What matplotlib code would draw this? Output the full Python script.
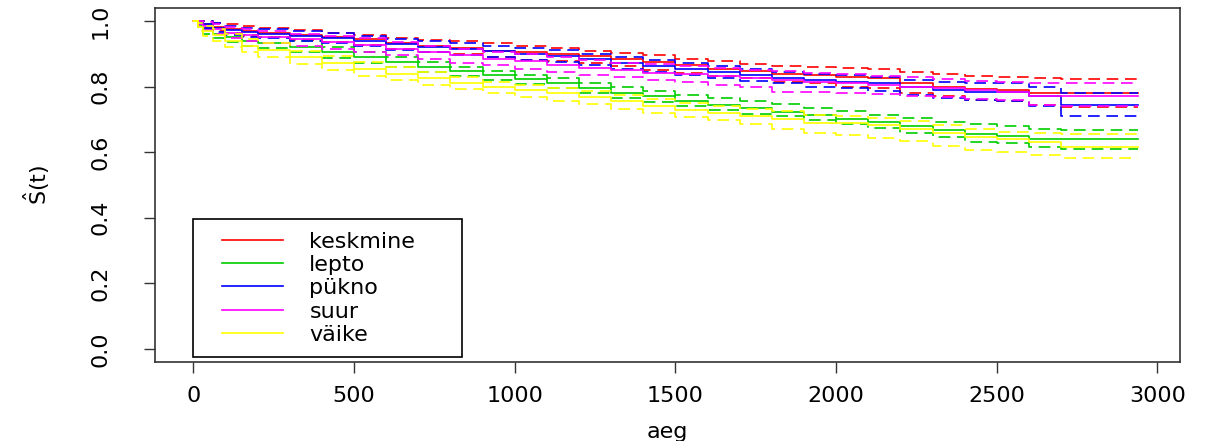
import matplotlib.pyplot as plt
from matplotlib.lines import Line2D
from matplotlib.legend_handler import HandlerLine2D

plt.rcParams['font.family'] = ['DejaVu Sans']
plt.rcParams['mathtext.fontset'] = 'dejavusans'

# time grid the curves were read at
aeg = [0, 15, 30, 60, 100, 150, 200, 300, 400, 500, 600, 700, 800, 900, 1000, 1100,
       1200, 1300, 1400, 1500, 1600, 1700, 1800, 1900, 2000, 2100, 2200, 2300,
       2400, 2500, 2600, 2700, 2800, 2940]

groups = ['keskmine', 'lepto', 'pükno', 'suur', 'väike']
colors = ['#FF0000', '#00CD00', '#0000FF', '#FF00FF', '#FFFF00']

# Kaplan-Meier estimate per group
surv_keskmine = [1.0, 0.995, 0.99, 0.982, 0.975, 0.97, 0.965, 0.958, 0.952, 0.945, 0.932, 0.925,
                 0.918, 0.91, 0.905, 0.9, 0.893, 0.885, 0.875, 0.865, 0.855, 0.848, 0.84,
                 0.835, 0.83, 0.825, 0.81, 0.8, 0.793, 0.79, 0.78, 0.78, 0.78, 0.78]
surv_lepto = [1.0, 0.985, 0.975, 0.962, 0.95, 0.94, 0.932, 0.92, 0.905, 0.89, 0.875, 0.86,
              0.847, 0.835, 0.822, 0.81, 0.796, 0.782, 0.77, 0.757, 0.745, 0.735, 0.723,
              0.712, 0.702, 0.692, 0.68, 0.668, 0.655, 0.65, 0.64, 0.64, 0.64, 0.64]
surv_pukno = [1.0, 0.995, 0.99, 0.98, 0.972, 0.966, 0.962, 0.955, 0.948, 0.94, 0.93, 0.922,
              0.915, 0.908, 0.9, 0.893, 0.883, 0.873, 0.863, 0.855, 0.845, 0.835, 0.826,
              0.82, 0.815, 0.81, 0.8, 0.79, 0.785, 0.785, 0.77, 0.744, 0.744, 0.744]
surv_suur = [1.0, 0.992, 0.985, 0.975, 0.965, 0.958, 0.952, 0.945, 0.935, 0.927, 0.915, 0.905,
             0.895, 0.885, 0.877, 0.867, 0.857, 0.85, 0.843, 0.838, 0.832, 0.825, 0.82,
             0.815, 0.81, 0.805, 0.8, 0.795, 0.79, 0.785, 0.772, 0.772, 0.772, 0.772]
surv_vaike = [1.0, 0.982, 0.97, 0.958, 0.94, 0.925, 0.912, 0.89, 0.872, 0.855, 0.84, 0.826,
              0.812, 0.8, 0.79, 0.78, 0.768, 0.755, 0.742, 0.73, 0.72, 0.71, 0.7,
              0.69, 0.688, 0.683, 0.672, 0.66, 0.647, 0.64, 0.63, 0.616, 0.616, 0.616]

# upper confidence limits
upper_keskmine = [1.0, 1.0, 1.0, 0.995, 0.99, 0.985, 0.98, 0.972, 0.965, 0.958, 0.948, 0.943,
                  0.938, 0.933, 0.925, 0.918, 0.91, 0.903, 0.895, 0.885, 0.877, 0.87, 0.863,
                  0.86, 0.858, 0.853, 0.845, 0.84, 0.832, 0.83, 0.825, 0.823, 0.823, 0.823]
upper_lepto = [1.0, 0.996, 0.99, 0.978, 0.965, 0.957, 0.95, 0.94, 0.922, 0.905, 0.89, 0.875,
               0.86, 0.848, 0.836, 0.825, 0.812, 0.8, 0.787, 0.775, 0.765, 0.755, 0.747,
               0.735, 0.725, 0.713, 0.703, 0.693, 0.685, 0.68, 0.67, 0.667, 0.667, 0.667]
upper_pukno = [1.0, 1.0, 1.0, 0.993, 0.986, 0.98, 0.977, 0.97, 0.964, 0.955, 0.945, 0.938,
               0.932, 0.925, 0.918, 0.912, 0.9, 0.89, 0.88, 0.872, 0.862, 0.853, 0.845,
               0.84, 0.835, 0.83, 0.82, 0.815, 0.81, 0.81, 0.8, 0.78, 0.78, 0.78]
upper_suur = [1.0, 1.0, 0.998, 0.99, 0.982, 0.975, 0.97, 0.962, 0.955, 0.947, 0.935, 0.925,
              0.915, 0.905, 0.898, 0.89, 0.88, 0.873, 0.868, 0.862, 0.857, 0.852, 0.848,
              0.843, 0.838, 0.833, 0.828, 0.823, 0.817, 0.813, 0.81, 0.81, 0.81, 0.81]
upper_vaike = [1.0, 0.993, 0.985, 0.975, 0.96, 0.945, 0.933, 0.91, 0.893, 0.875, 0.86, 0.845,
               0.83, 0.815, 0.805, 0.797, 0.787, 0.775, 0.762, 0.75, 0.742, 0.733, 0.725,
               0.715, 0.71, 0.705, 0.695, 0.683, 0.67, 0.663, 0.658, 0.655, 0.655, 0.655]

# lower confidence limits
lower_keskmine = [1.0, 0.99, 0.98, 0.97, 0.962, 0.955, 0.95, 0.942, 0.935, 0.927, 0.915, 0.907,
                  0.898, 0.89, 0.882, 0.877, 0.872, 0.862, 0.852, 0.842, 0.832, 0.825, 0.815,
                  0.81, 0.8, 0.795, 0.78, 0.77, 0.76, 0.755, 0.745, 0.738, 0.738, 0.738]
lower_lepto = [1.0, 0.975, 0.962, 0.948, 0.935, 0.925, 0.917, 0.905, 0.888, 0.873, 0.86, 0.845,
               0.832, 0.82, 0.808, 0.795, 0.78, 0.765, 0.752, 0.74, 0.728, 0.718, 0.71,
               0.698, 0.685, 0.673, 0.66, 0.645, 0.632, 0.628, 0.615, 0.61, 0.61, 0.61]
lower_pukno = [1.0, 0.99, 0.98, 0.967, 0.958, 0.952, 0.947, 0.94, 0.932, 0.924, 0.913, 0.905,
               0.897, 0.89, 0.882, 0.874, 0.865, 0.855, 0.845, 0.835, 0.826, 0.817, 0.81,
               0.8, 0.795, 0.787, 0.775, 0.765, 0.76, 0.755, 0.74, 0.71, 0.71, 0.71]
lower_suur = [1.0, 0.985, 0.972, 0.96, 0.948, 0.94, 0.933, 0.925, 0.915, 0.906, 0.895, 0.883,
              0.873, 0.865, 0.855, 0.845, 0.835, 0.828, 0.82, 0.813, 0.806, 0.8, 0.785,
              0.783, 0.78, 0.778, 0.772, 0.767, 0.762, 0.758, 0.745, 0.74, 0.74, 0.74]
lower_vaike = [1.0, 0.97, 0.955, 0.94, 0.92, 0.905, 0.89, 0.87, 0.85, 0.833, 0.82, 0.806,
               0.792, 0.78, 0.768, 0.757, 0.747, 0.733, 0.72, 0.708, 0.697, 0.686, 0.672,
               0.66, 0.652, 0.643, 0.633, 0.62, 0.607, 0.6, 0.59, 0.582, 0.582, 0.582]

surv = [surv_keskmine, surv_lepto, surv_pukno, surv_suur, surv_vaike]
upper = [upper_keskmine, upper_lepto, upper_pukno, upper_suur, upper_vaike]
lower = [lower_keskmine, lower_lepto, lower_pukno, lower_suur, lower_vaike]

fig = plt.figure(figsize=(12.09, 4.41), dpi=100)
ax = fig.add_axes([0.128, 0.179, 0.848, 0.803])

for name, col, s, up, lo in zip(groups, colors, surv, upper, lower):
    ax.step(aeg, s, where='post', color=col, lw=1.2, label=name)
    ax.step(aeg, up, where='post', color=col, lw=1.2, dashes=(7, 4))
    ax.step(aeg, lo, where='post', color=col, lw=1.2, dashes=(7, 4))

ax.set_xlim(-120, 3070)
ax.set_ylim(-0.04, 1.04)
ax.set_xticks([0, 500, 1000, 1500, 2000, 2500, 3000])
ax.set_yticks([0.0, 0.2, 0.4, 0.6, 0.8, 1.0])
ax.set_yticklabels(['0.0', '0.2', '0.4', '0.6', '0.8', '1.0'], rotation=90, va='center')
ax.tick_params(axis='x', length=8, width=1, labelsize=16, pad=9, color='#333333')
ax.tick_params(axis='y', length=8, width=1, labelsize=16, pad=24, color='#333333')
for sp in ax.spines.values():
    sp.set_linewidth(1.2)
    sp.set_color('#333333')

fig.text(0.552, 0.02, 'aeg', ha='center', va='center', fontsize=16)
fig.text(0.03, 0.58, r'$\hat{\mathrm{S}}\mathrm{(t)}$', ha='center', va='center',
         rotation=90, fontsize=16)

# legend: short line keys indented from the frame, like R's legend()
leg = ax.legend(loc='lower left', bbox_to_anchor=(0.037, 0.014, 0.263, 0.4),
                mode='expand', borderaxespad=0, fontsize=16, handlelength=3.5,
                handletextpad=1.2, borderpad=0.55, labelspacing=0.15,
                fancybox=False, framealpha=1,
                handler_map={Line2D: HandlerLine2D(xpad=0.77)})
leg.get_frame().set_edgecolor('black')
leg.get_frame().set_linewidth(1.2)

plt.savefig('out.png', dpi=100)
